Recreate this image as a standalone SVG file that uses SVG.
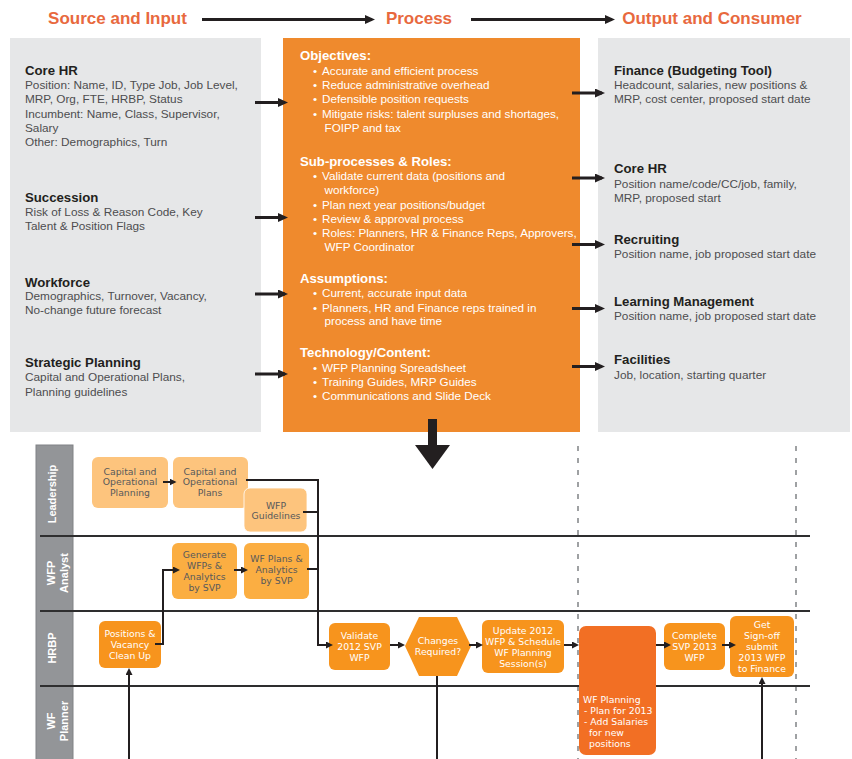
<svg xmlns="http://www.w3.org/2000/svg" width="852" height="759" viewBox="0 0 852 759">
  <style>
    text { font-family: "Liberation Sans", Arial, sans-serif; }
    .hdr { font-size: 17px; font-weight: bold; fill: #E8693E; text-anchor: middle; }
    .panel-g { fill: #E6E7E8; }
    .panel-o { fill: #EF8A2D; }
    .h { font-size: 13.2px; font-weight: bold; fill: #231F20; }
    .b { font-size: 11.8px; fill: #4D4D4F; }
    .wh { font-size: 13.2px; font-weight: bold; fill: #FFFFFF; }
    .wb { font-size: 11.7px; fill: #FFFFFF; }
    .thick { stroke: #231F20; stroke-width: 3; fill: none; }
    .conn { stroke: #231F20; stroke-width: 2; fill: none; }
    .lanecol { fill: #939598; stroke: #808285; stroke-width: 1; }
    .lanelbl { font-size: 11px; font-weight: bold; fill: #FFFFFF; text-anchor: middle; }
    .lanesep { stroke: #2E2E2F; stroke-width: 2; }
    .dash { stroke: #808285; stroke-width: 1.5; stroke-dasharray: 5 7; fill: none; }
    .n-lead { fill: #FDC47D; }
    .n-ana { fill: #FBAE42; }
    .n-hr { fill: #F7941D; }
    .n-plan { fill: #F26F24; }
    .td, .tl, .tll { font-family: "DejaVu Sans", "Liberation Sans", sans-serif; font-size: 9.3px; }
    .td { fill: #58595B; text-anchor: middle; }
    .tl { fill: #FFFFFF; text-anchor: middle; }
    .tll { fill: #FFFFFF; }
  </style>
  <defs>
    <marker id="headL" markerUnits="userSpaceOnUse" markerWidth="10" markerHeight="10" refX="7" refY="4.5" orient="auto">
      <path d="M0,0 L10,4.5 L0,9 z" fill="#231F20"/>
    </marker>
    <marker id="headS" markerUnits="userSpaceOnUse" markerWidth="8" markerHeight="8" refX="5" refY="3.5" orient="auto">
      <path d="M0,0 L7,3.5 L0,7 z" fill="#231F20"/>
    </marker>
  </defs>

  <!-- column titles -->
  <g id="titles">
    <text class="hdr" x="117.5" y="24">Source and Input</text>
    <text class="hdr" x="419" y="24">Process</text>
    <text class="hdr" x="712" y="24">Output and Consumer</text>
  </g>

  <!-- source and input panel -->
  <g id="source">
    <rect class="panel-g" x="10" y="38" width="251" height="394"/>
    <text class="h" x="25" y="75">Core HR</text>
    <text class="b" x="25" y="89">Position: Name, ID, Type Job, Job Level,</text>
    <text class="b" x="25" y="103">MRP, Org, FTE, HRBP, Status</text>
    <text class="b" x="25" y="117.5">Incumbent: Name, Class, Supervisor,</text>
    <text class="b" x="25" y="132">Salary</text>
    <text class="b" x="25" y="146">Other: Demographics, Turn</text>
    <text class="h" x="25" y="201.5">Succession</text>
    <text class="b" x="25" y="216">Risk of Loss &amp; Reason Code, Key</text>
    <text class="b" x="25" y="230">Talent &amp; Position Flags</text>
    <text class="h" x="25" y="286.5">Workforce</text>
    <text class="b" x="25" y="300">Demographics, Turnover, Vacancy,</text>
    <text class="b" x="25" y="314">No-change future forecast</text>
    <text class="h" x="25" y="367">Strategic Planning</text>
    <text class="b" x="25" y="381">Capital and Operational Plans,</text>
    <text class="b" x="25" y="395.5">Planning guidelines</text>
  </g>

  <!-- process panel -->
  <g id="process">
    <rect class="panel-o" x="283" y="38" width="297" height="394"/>
    <text class="wh" x="300" y="60">Objectives:</text>
    <text class="wb" x="313" y="74.7">•</text><text class="wb" x="322" y="74.7">Accurate and efficient process</text>
    <text class="wb" x="313" y="89">•</text><text class="wb" x="322" y="89">Reduce administrative overhead</text>
    <text class="wb" x="313" y="103">•</text><text class="wb" x="322" y="103">Defensible position requests</text>
    <text class="wb" x="313" y="118">•</text><text class="wb" x="322" y="118">Mitigate risks: talent surpluses and shortages,</text>
    <text class="wb" x="324.5" y="132">FOIPP and tax</text>

    <text class="wh" x="300" y="166">Sub-processes &amp; Roles:</text>
    <text class="wb" x="313" y="180">•</text><text class="wb" x="322" y="180">Validate current data (positions and</text>
    <text class="wb" x="324.5" y="194.3">workforce)</text>
    <text class="wb" x="313" y="209">•</text><text class="wb" x="322" y="209">Plan next year positions/budget</text>
    <text class="wb" x="313" y="223">•</text><text class="wb" x="322" y="223">Review &amp; approval process</text>
    <text class="wb" x="313" y="237">•</text><text class="wb" x="322" y="237">Roles: Planners, HR &amp; Finance Reps, Approvers,</text>
    <text class="wb" x="324.5" y="251.3">WFP Coordinator</text>

    <text class="wh" x="300" y="283">Assumptions:</text>
    <text class="wb" x="313" y="296.7">•</text><text class="wb" x="322" y="296.7">Current, accurate input data</text>
    <text class="wb" x="313" y="312">•</text><text class="wb" x="322" y="312">Planners, HR and Finance reps trained in</text>
    <text class="wb" x="324.5" y="325">process and have time</text>

    <text class="wh" x="300" y="357">Technology/Content:</text>
    <text class="wb" x="313" y="371.7">•</text><text class="wb" x="322" y="371.7">WFP Planning Spreadsheet</text>
    <text class="wb" x="313" y="385.7">•</text><text class="wb" x="322" y="385.7">Training Guides, MRP Guides</text>
    <text class="wb" x="313" y="399.7">•</text><text class="wb" x="322" y="399.7">Communications and Slide Deck</text>
  </g>

  <!-- output and consumer panel -->
  <g id="output">
    <rect class="panel-g" x="598" y="38" width="252" height="394"/>
    <text class="h" x="614" y="75">Finance (Budgeting Tool)</text>
    <text class="b" x="614" y="89">Headcount, salaries, new positions &amp;</text>
    <text class="b" x="614" y="102.5">MRP, cost center, proposed start date</text>
    <text class="h" x="614" y="173">Core HR</text>
    <text class="b" x="614" y="187.5">Position name/code/CC/job, family,</text>
    <text class="b" x="614" y="201.5">MRP, proposed start</text>
    <text class="h" x="614" y="244">Recruiting</text>
    <text class="b" x="614" y="258">Position name, job proposed start date</text>
    <text class="h" x="614" y="305.5">Learning Management</text>
    <text class="b" x="614" y="320">Position name, job proposed start date</text>
    <text class="h" x="614" y="364">Facilities</text>
    <text class="b" x="614" y="379">Job, location, starting quarter</text>
  </g>

  <!-- flow arrows of the upper section -->
  <g id="upper-connectors">
    <line class="thick" x1="202" y1="19.5" x2="372" y2="19.5" marker-end="url(#headL)"/>
    <line class="thick" x1="471" y1="19.5" x2="612" y2="19.5" marker-end="url(#headL)"/>
    <line class="thick" x1="255" y1="102.5" x2="285" y2="102.5" marker-end="url(#headL)"/>
    <line class="thick" x1="255" y1="217.5" x2="285" y2="217.5" marker-end="url(#headL)"/>
    <line class="thick" x1="255" y1="294" x2="285" y2="294" marker-end="url(#headL)"/>
    <line class="thick" x1="255" y1="374" x2="285" y2="374" marker-end="url(#headL)"/>
    <line class="thick" x1="572" y1="93" x2="602" y2="93" marker-end="url(#headL)"/>
    <line class="thick" x1="572" y1="178" x2="602" y2="178" marker-end="url(#headL)"/>
    <line class="thick" x1="572" y1="244.5" x2="602" y2="244.5" marker-end="url(#headL)"/>
    <line class="thick" x1="572" y1="308.5" x2="602" y2="308.5" marker-end="url(#headL)"/>
    <line class="thick" x1="572" y1="366.5" x2="602" y2="366.5" marker-end="url(#headL)"/>
    <!-- big arrow down into the swimlanes -->
    <rect x="428" y="419" width="9" height="27" fill="#231F20"/>
    <polygon points="415,445 450,445 432.5,469" fill="#231F20"/>
  </g>

  <!-- swimlane frame -->
  <g id="lanes">
    <rect class="lanecol" x="36" y="445" width="37" height="320"/>
    <line class="dash" x1="578" y1="446" x2="578" y2="759"/>
    <line class="dash" x1="796" y1="446" x2="796" y2="759"/>
    <line class="lanesep" x1="40" y1="536" x2="810" y2="536"/>
    <line class="lanesep" x1="40" y1="611" x2="810" y2="611"/>
    <line class="lanesep" x1="40" y1="686" x2="810" y2="686"/>
    <text class="lanelbl" transform="translate(56 494) rotate(-90)">Leadership</text>
    <text class="lanelbl" transform="translate(55 573) rotate(-90)">WFP</text>
    <text class="lanelbl" transform="translate(68 573) rotate(-90)">Analyst</text>
    <text class="lanelbl" transform="translate(56 648) rotate(-90)">HRBP</text>
    <text class="lanelbl" transform="translate(55 721) rotate(-90)">WF</text>
    <text class="lanelbl" transform="translate(68 721) rotate(-90)">Planner</text>
  </g>

  <!-- leadership lane -->
  <g id="cap-op-planning">
    <rect class="n-lead" x="92" y="457" width="76" height="51" rx="6"/>
    <text class="td" x="130" y="474.5">Capital and</text>
    <text class="td" x="130" y="485.3">Operational</text>
    <text class="td" x="130" y="496.1">Planning</text>
  </g>
  <g id="cap-op-plans">
    <rect class="n-lead" x="173" y="457" width="75" height="51" rx="6"/>
    <text class="td" x="210" y="474.5">Capital and</text>
    <text class="td" x="210" y="485.3">Operational</text>
    <text class="td" x="210" y="496.1">Plans</text>
  </g>
  <g id="wfp-guidelines">
    <rect class="n-lead" x="244" y="488" width="63" height="44" rx="6" stroke="#FFFFFF" stroke-width="0.8"/>
    <text class="td" x="276" y="508.6">WFP</text>
    <text class="td" x="276" y="519.4">Guidelines</text>
  </g>

  <!-- WFP analyst lane -->
  <g id="generate-wfps">
    <rect class="n-ana" x="172" y="543" width="65" height="56" rx="6"/>
    <text class="td" x="204.5" y="557.5">Generate</text>
    <text class="td" x="204.5" y="568.5">WFPs &amp;</text>
    <text class="td" x="204.5" y="579.5">Analytics</text>
    <text class="td" x="204.5" y="590.5">by SVP</text>
  </g>
  <g id="wf-plans">
    <rect class="n-ana" x="244" y="543" width="65" height="56" rx="6"/>
    <text class="td" x="276.5" y="561.5">WF Plans &amp;</text>
    <text class="td" x="276.5" y="572.5">Analytics</text>
    <text class="td" x="276.5" y="583.5">by SVP</text>
  </g>

  <!-- HRBP lane -->
  <g id="positions-cleanup">
    <rect class="n-hr" x="99" y="621" width="62" height="47" rx="6"/>
    <text class="tl" x="130" y="636.5">Positions &amp;</text>
    <text class="tl" x="130" y="647.5">Vacancy</text>
    <text class="tl" x="130" y="658.5">Clean Up</text>
  </g>
  <g id="validate">
    <rect class="n-hr" x="329" y="623" width="61" height="47" rx="6"/>
    <text class="tl" x="359.5" y="639.2">Validate</text>
    <text class="tl" x="359.5" y="650.2">2012 SVP</text>
    <text class="tl" x="359.5" y="661.2">WFP</text>
  </g>
  <g id="changes-required">
    <polygon class="n-hr" points="405,646 419,617 457,617 471,646 457,676 419,676"/>
    <text class="tl" x="438" y="644">Changes</text>
    <text class="tl" x="438" y="655">Required?</text>
  </g>
  <g id="update-2012">
    <rect class="n-hr" x="482" y="620" width="82" height="53" rx="6"/>
    <text class="tl" x="523" y="634">Update 2012</text>
    <text class="tl" x="523" y="645">WFP &amp; Schedule</text>
    <text class="tl" x="523" y="656">WF Planning</text>
    <text class="tl" x="523" y="667">Session(s)</text>
  </g>
  <g id="complete-2013">
    <rect class="n-hr" x="664" y="623" width="61" height="47" rx="6"/>
    <text class="tl" x="694.5" y="639.2">Complete</text>
    <text class="tl" x="694.5" y="650.2">SVP 2013</text>
    <text class="tl" x="694.5" y="661.2">WFP</text>
  </g>
  <g id="sign-off">
    <rect class="n-hr" x="730" y="616" width="64" height="61" rx="6"/>
    <text class="tl" x="762" y="628.3">Get</text>
    <text class="tl" x="762" y="639.3">Sign-off</text>
    <text class="tl" x="762" y="650.3">submit</text>
    <text class="tl" x="762" y="661.3">2013 WFP</text>
    <text class="tl" x="762" y="672.3">to Finance</text>
  </g>

  <!-- WF planner lane -->
  <g id="wf-planning">
    <rect class="n-plan" x="579" y="626" width="77" height="129" rx="7"/>
    <text class="tll" x="583" y="702.5">WF Planning</text>
    <text class="tll" x="584" y="713.5">- Plan for 2013</text>
    <text class="tll" x="584" y="724.5">- Add Salaries</text>
    <text class="tll" x="589" y="735.5">for new</text>
    <text class="tll" x="589" y="746.5">positions</text>
  </g>

  <!-- swimlane connectors -->
  <g id="connectors">
    <path class="conn" d="M163,482 H174.5" marker-end="url(#headS)"/>
    <path class="conn" d="M246,480 H318 V645 H331" marker-end="url(#headS)"/>
    <path class="conn" d="M303,512 H318"/>
    <path class="conn" d="M307,569 H318"/>
    <path class="conn" d="M155,644 H163 V570 H178" marker-end="url(#headS)"/>
    <path class="conn" d="M234,570 H246" marker-end="url(#headS)"/>
    <path class="conn" d="M129,759 V670" marker-end="url(#headS)"/>
    <path class="conn" d="M390,645 H403" marker-end="url(#headS)"/>
    <path class="conn" d="M469,645 H481" marker-end="url(#headS)"/>
    <path class="conn" d="M564,645 H577" marker-end="url(#headS)"/>
    <path class="conn" d="M656,645 H669" marker-end="url(#headS)"/>
    <path class="conn" d="M722,645 H734" marker-end="url(#headS)"/>
    <path class="conn" d="M437,676 V759"/>
    <path class="conn" d="M762,759 V679" marker-end="url(#headS)"/>
  </g>
</svg>
